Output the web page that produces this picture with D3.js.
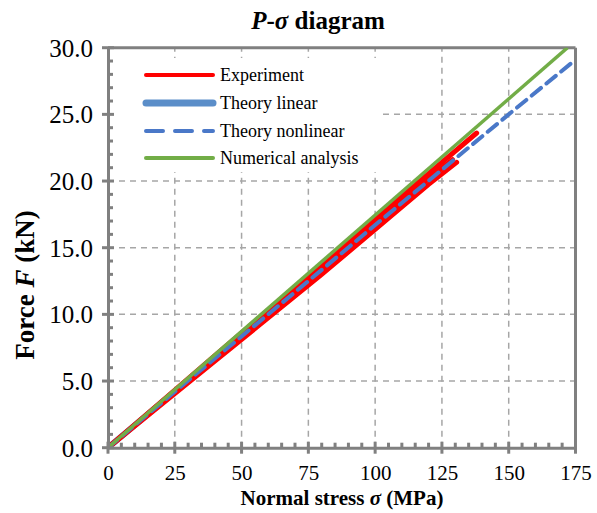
<!DOCTYPE html>
<html><head><meta charset="utf-8">
<script src="https://cdn.jsdelivr.net/npm/d3@7"></script>
<style>body{margin:0;background:#fff}svg{display:block}</style>
</head><body><svg id="c" width="597" height="513" font-family="Liberation Serif, Times New Roman, serif"></svg>
<script>
// ---- data ----
const xTickValues = [0, 25, 50, 75, 100, 125, 150, 175];
const yTickValues = [0, 5, 10, 15, 20, 25, 30];
// experiment: several loading cycles
const exp1Sigma = [0, 40, 80, 120, 138];
const exp1F     = [0, 6.9, 13.75, 20.55, 23.6];
const exp2Sigma = [0, 40, 80, 116];
const exp2F     = [0, 6.8, 13.55, 19.6];
const exp3Sigma = [0, 40, 80, 120, 129];
const exp3F     = [0, 6.7, 13.35, 20.2, 21.6];
const exp4Sigma = [0, 40, 80, 120, 130.5];
const exp4F     = [0, 6.5, 13.0, 19.75, 21.4];
const linSigma  = [0, 30];
const linF      = [0, 5.05];
const nonlinSigma = [0, 25, 50, 75, 100, 125, 150, 175];
const nonlinF     = [0, 4.2, 8.35, 12.5, 16.7, 20.85, 25.0, 29.1];
const numSigma = [0, 172];
const numF     = [0, 30];
const legendLabels = ["Experiment", "Theory linear", "Theory nonlinear", "Numerical analysis"];

// ---- layout ----
const FONT = "Liberation Serif, Times New Roman, serif";
const svg = d3.select("#c");
const X0 = 108, X1 = 575.5, Y0 = 447.7, Y1 = 47.7;
const x = d3.scaleLinear().domain([0, 175]).range([X0, X1]);
const y = d3.scaleLinear().domain([0, 30]).range([Y0, Y1]);
const gray = "#808080", gridC = "#a6a6a6";
const RED = "#ff0000", BLUE_L = "#5b8ec9", BLUE_D = "#4a78c8", GREEN = "#72ad47";

// grid
const g = svg.append("g");
g.selectAll(".gx").data(xTickValues.slice(1, -1)).join("line")
  .attr("x1", d => x(d)).attr("x2", d => x(d)).attr("y1", Y0).attr("y2", Y1)
  .attr("stroke", gridC).attr("stroke-width", 1.5).attr("stroke-dasharray", "6,5");
g.selectAll(".gy").data(yTickValues.slice(1, -1)).join("line")
  .attr("x1", X0).attr("x2", X1).attr("y1", d => y(d)).attr("y2", d => y(d))
  .attr("stroke", gridC).attr("stroke-width", 1.5).attr("stroke-dasharray", "6,5");

// legend background (hides grid)
svg.append("rect").attr("x", 112).attr("y", 58).attr("width", 270).attr("height", 114).attr("fill", "#fff");

// frame top/right
svg.append("line").attr("x1", X0).attr("x2", X1).attr("y1", Y1).attr("y2", Y1).attr("stroke", gray).attr("stroke-width", 3);
svg.append("line").attr("x1", X1).attr("x2", X1).attr("y1", Y1).attr("y2", Y0).attr("stroke", gray).attr("stroke-width", 3);

// series
svg.append("clipPath").attr("id", "pc").append("rect").attr("x", X0).attr("y", Y1).attr("width", X1 - X0).attr("height", Y0 - Y1);
const plot = svg.append("g").attr("clip-path", "url(#pc)");
const line = d3.line().x(d => x(d[0])).y(d => y(d[1]));
const zip = (a, b) => a.map((v, i) => [v, b[i]]);
plot.append("path").datum(zip(linSigma, linF)).attr("d", line).attr("fill", "none").attr("stroke", BLUE_L).attr("stroke-width", 6);
[[exp1Sigma, exp1F], [exp2Sigma, exp2F], [exp3Sigma, exp3F], [exp4Sigma, exp4F]].forEach(([s, f]) => {
  plot.append("path").datum(zip(s, f)).attr("d", line).attr("fill", "none")
    .attr("stroke", RED).attr("stroke-width", 5).attr("stroke-linecap", "round");
});
plot.append("path").datum(zip(nonlinSigma, nonlinF)).attr("d", line).attr("fill", "none")
  .attr("stroke", BLUE_D).attr("stroke-width", 4).attr("stroke-dasharray", "12,7").attr("stroke-linecap", "round");
plot.append("path").datum(zip(numSigma, numF)).attr("d", line).attr("fill", "none")
  .attr("stroke", GREEN).attr("stroke-width", 3.5);

// axes
const xAxis = d3.axisBottom(x).tickValues(xTickValues).tickSize(0).tickFormat(d3.format("d"));
const yAxis = d3.axisLeft(y).tickValues(yTickValues).tickSize(0).tickFormat(d3.format(".1f"));
const gx = svg.append("g").attr("transform", `translate(0,${Y0})`).call(xAxis).attr("font-family", FONT);
gx.select(".domain").attr("stroke", gray).attr("stroke-width", 3);
gx.selectAll("text").attr("font-size", 21).attr("fill", "#000").attr("dy", "0").attr("y", 32);
const gy = svg.append("g").attr("transform", `translate(${X0},0)`).call(yAxis).attr("font-family", FONT);
gy.select(".domain").attr("stroke", gray).attr("stroke-width", 3);
gy.selectAll("text").attr("font-size", 25).attr("fill", "#000").attr("x", -15).attr("dy", "0.34em");

// ticks: majors cross, minors inside
const minorX = d3.range(5, 175, 5).filter(v => v % 25 !== 0);
const minorY = d3.range(1, 30, 1).filter(v => v % 5 !== 0);
svg.append("g").selectAll("line").data(xTickValues).join("line")
  .attr("x1", d => x(d)).attr("x2", d => x(d)).attr("y1", Y0 - 6).attr("y2", Y0 + 6).attr("stroke", gray).attr("stroke-width", 3);
svg.append("g").selectAll("line").data(minorX).join("line")
  .attr("x1", d => x(d)).attr("x2", d => x(d)).attr("y1", Y0 - 5).attr("y2", Y0).attr("stroke", gray).attr("stroke-width", 3);
svg.append("g").selectAll("line").data(yTickValues).join("line")
  .attr("x1", X0 - 6).attr("x2", X0 + 6).attr("y1", d => y(d)).attr("y2", d => y(d)).attr("stroke", gray).attr("stroke-width", 3);
svg.append("g").selectAll("line").data(minorY).join("line")
  .attr("x1", X0).attr("x2", X0 + 5).attr("y1", d => y(d)).attr("y2", d => y(d)).attr("stroke", gray).attr("stroke-width", 3);

// legend
const lg = svg.append("g");
const rowsY = [75, 103, 131, 158];
const styles = [
  {c: RED, w: 4, dash: null},
  {c: BLUE_L, w: 7, dash: null},
  {c: BLUE_D, w: 4, dash: "17,12"},
  {c: GREEN, w: 4, dash: null}
];
legendLabels.forEach((lab, i) => {
  const s = styles[i];
  lg.append("line").attr("x1", 146).attr("x2", 213).attr("y1", rowsY[i]).attr("y2", rowsY[i])
    .attr("stroke", s.c).attr("stroke-width", s.w).attr("stroke-linecap", "round")
    .attr("stroke-dasharray", s.dash);
  lg.append("text").attr("x", 220).attr("y", rowsY[i]).attr("dy", "0.33em").attr("font-size", 18).text(lab);
});

// title
const t = svg.append("text").attr("x", 318).attr("y", 29).attr("text-anchor", "middle").attr("font-size", 25).attr("font-weight", "bold");
t.append("tspan").attr("font-style", "italic").text("P");
t.append("tspan").text("-");
t.append("tspan").attr("font-style", "italic").text("σ");
t.append("tspan").text(" diagram");

// axis titles
const xl = svg.append("text").attr("x", 342).attr("y", 505).attr("text-anchor", "middle").attr("font-size", 21).attr("font-weight", "bold");
xl.append("tspan").text("Normal stress ");
xl.append("tspan").attr("font-style", "italic").text("σ");
xl.append("tspan").text(" (MPa)");
const yl = svg.append("text").attr("transform", "translate(34,285) rotate(-90)").attr("text-anchor", "middle").attr("font-size", 27).attr("font-weight", "bold");
yl.append("tspan").text("Force ");
yl.append("tspan").attr("font-style", "italic").text("F");
yl.append("tspan").text(" (kN)");
</script></body></html>
